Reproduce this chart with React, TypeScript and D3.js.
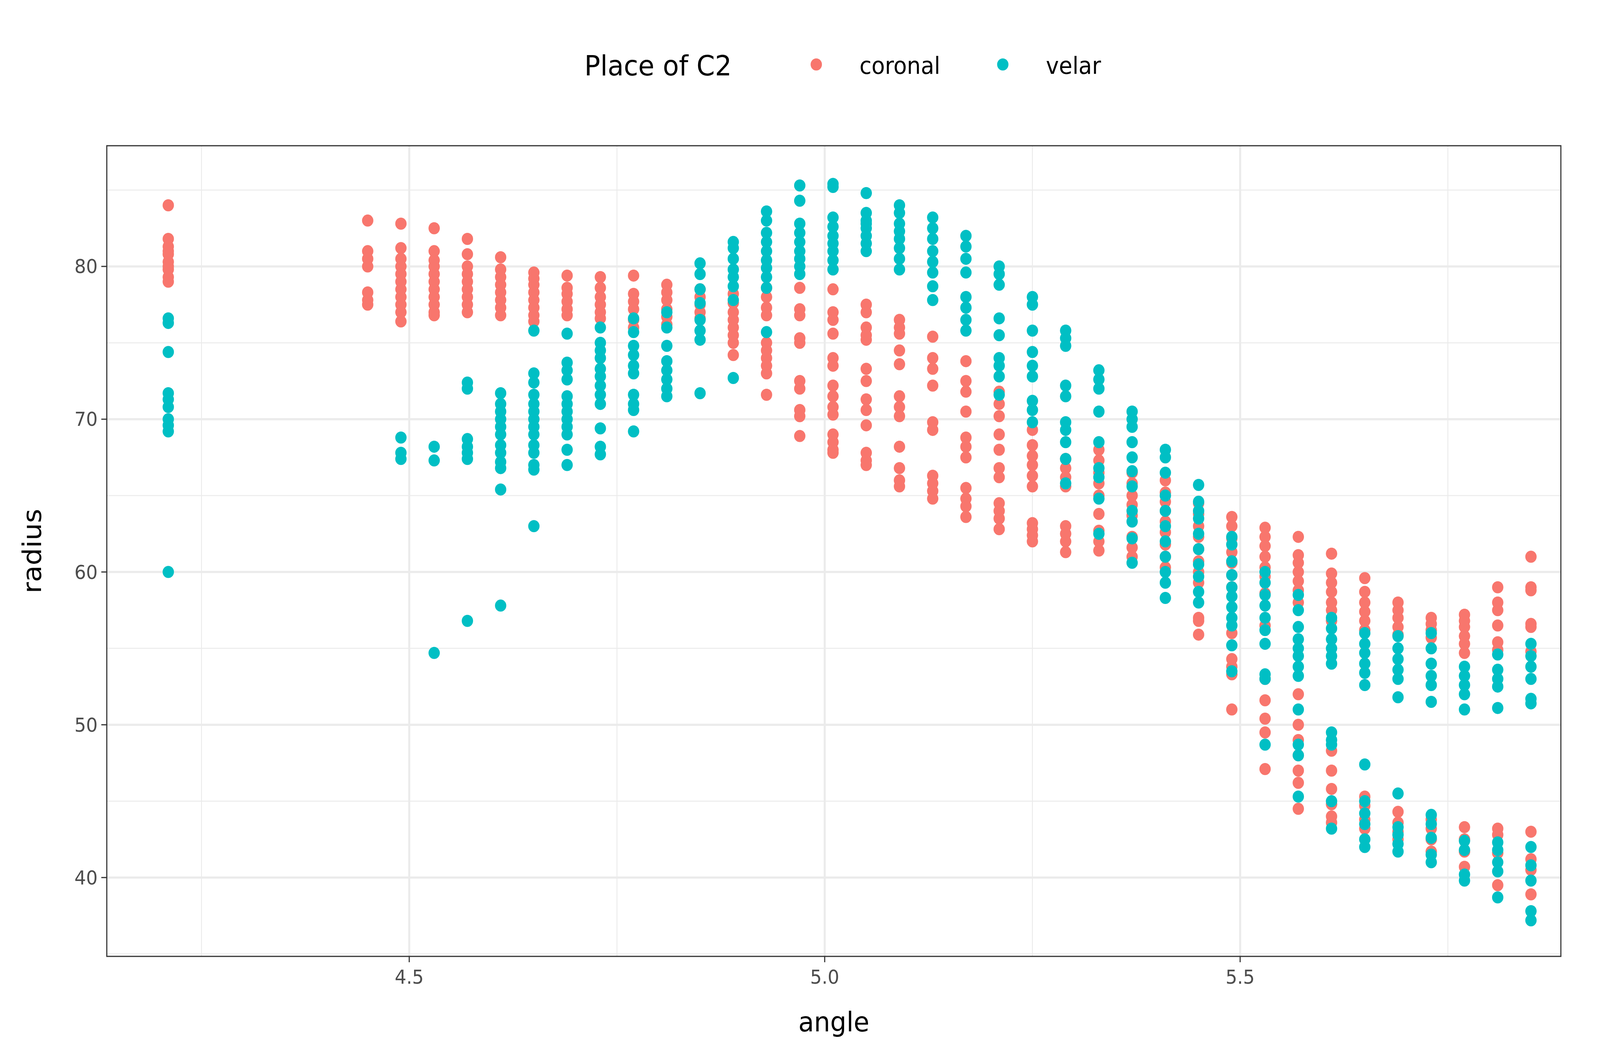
import React, { useEffect, useRef } from 'react';
import * as d3 from 'd3';

// Discrete angle positions (x values)
const angles = [4.21, 4.45, 4.49, 4.53, 4.57, 4.61, 4.65, 4.69, 4.73, 4.77, 4.81, 4.85, 4.89, 4.93, 4.97, 5.01, 5.05, 5.09, 5.13, 5.17, 5.21, 5.25, 5.29, 5.33, 5.37, 5.41, 5.45, 5.49, 5.53, 5.57, 5.61, 5.65, 5.69, 5.73, 5.77, 5.81, 5.85];

// radius values per angle, coronal
const coronal: number[][] = [
  [84, 81.8, 81.3, 80.8, 80.3, 79.8, 79.3, 79, 80, 81],
  [83, 81, 80.5, 80, 78.3, 77.8, 77.5],
  [82.8, 81.2, 80.5, 80, 79.5, 79, 78.5, 78, 77.5, 77, 76.4],
  [82.5, 81, 80.4, 80, 79.5, 79, 78.5, 78, 77.5, 77, 76.8],
  [81.8, 80.8, 80, 79.5, 79, 78.5, 78, 77.5, 77],
  [80.6, 79.8, 79.3, 78.8, 78.3, 77.8, 77.3, 76.8],
  [79.6, 79.2, 78.8, 78.3, 77.8, 77.3, 76.8, 76.4],
  [79.4, 78.6, 78.2, 77.7, 77.2, 76.8],
  [79.3, 78.6, 78, 77.5, 77, 76.6],
  [79.4, 78.2, 77.7, 77.2, 76.5, 76],
  [78.8, 78.3, 77.8, 77.2, 76.7, 76.2],
  [78.5, 78, 77.5, 77, 76.6],
  [78.2, 77.6, 77, 76.5, 76, 75.5, 75, 74.2],
  [78.6, 78, 77.3, 76.8, 75, 74.5, 74, 73.5, 73, 71.6],
  [78.6, 77.2, 76.8, 75.3, 75, 72.5, 72, 70.6, 70.2, 68.9],
  [78.5, 77, 76.5, 75.6, 74, 73.5, 72.2, 71.5, 70.8, 70.3, 69, 68.5, 68, 67.8],
  [77.5, 77, 76, 75.5, 75.2, 73.3, 72.5, 71.3, 70.6, 69.6, 67.8, 67.3, 67],
  [76.5, 76, 75.6, 74.5, 73.6, 71.5, 70.8, 70.2, 68.2, 66.8, 66, 65.6],
  [75.4, 74, 73.3, 72.2, 69.8, 69.3, 66.3, 65.8, 65.3, 64.8],
  [73.8, 72.5, 71.8, 70.5, 68.8, 68.2, 67.5, 65.5, 64.8, 64.3, 63.6],
  [71.8, 71, 70.2, 69, 68, 66.8, 66.2, 64.5, 64, 63.5, 62.8],
  [69.3, 68.3, 67.6, 67, 66.3, 65.6, 63.2, 62.8, 62.4, 62],
  [67.4, 66.8, 66.2, 65.6, 63, 62.5, 62, 61.3],
  [68, 67.3, 66.5, 65.8, 65, 63.8, 62.7, 62, 61.4],
  [66.5, 65.8, 65, 64.4, 63.7, 62.3, 61.6, 61],
  [66, 65.2, 64.6, 64, 63.3, 62.6, 61.8, 61, 60.3],
  [64.5, 63.8, 63, 62.3, 61.5, 60.7, 60, 59.3, 57, 56.8, 55.9],
  [63.6, 63, 62.2, 61.3, 60.6, 59.8, 59, 56, 54.3, 53.8, 53.3, 51],
  [62.9, 62.3, 61.7, 61, 60.3, 59.7, 58.6, 56.5, 53, 51.6, 50.4, 49.5, 47.1],
  [62.3, 61.1, 60.6, 60, 59.4, 58.8, 58, 52, 50, 49, 48, 47, 46.2, 44.5],
  [61.2, 59.9, 59.3, 58.7, 58, 57.5, 56.8, 48.3, 47, 45.8, 44.8, 44, 43.6],
  [59.6, 58.7, 58, 57.4, 56.8, 56.2, 45.3, 44.7, 43.8, 43.2],
  [58, 57.5, 57, 56.4, 55.9, 44.3, 43.6, 43, 42.5],
  [57, 56.6, 56.2, 55.7, 43.8, 43.2, 42.5, 41.7],
  [57.2, 56.8, 56.4, 55.8, 55.3, 54.7, 43.3, 42.5, 41.7, 40.7],
  [59, 58, 57.5, 56.5, 55.4, 54.9, 43.2, 42.8, 41.6, 39.5],
  [61, 59, 58.8, 56.6, 56.4, 54.8, 43, 41.2, 40.5, 38.9],
];

// radius values per angle, velar
const velar: number[][] = [
  [76.6, 76.3, 74.4, 71.7, 71.3, 70.8, 70, 69.6, 69.2, 60],
  [],
  [68.8, 67.8, 67.4],
  [68.2, 67.3, 54.7],
  [72.4, 72, 68.7, 68.2, 67.8, 67.4, 56.8],
  [71.7, 71, 70.5, 70, 69.5, 69, 68.3, 67.8, 67.2, 66.8, 65.4, 57.8],
  [75.8, 73, 72.4, 71.6, 71, 70.5, 70, 69.5, 69, 68.3, 67.8, 67, 66.7, 63],
  [75.6, 73.7, 73.2, 72.6, 71.5, 71, 70.5, 70, 69.5, 69, 68, 67],
  [76, 75, 74.5, 74, 73.3, 72.8, 72.2, 71.6, 71, 69.4, 68.2, 67.7],
  [76.6, 75.7, 74.8, 74.2, 73.5, 73, 71.6, 71, 70.6, 69.2],
  [77, 76, 74.8, 73.8, 73.2, 72.6, 72, 71.5],
  [80.2, 79.5, 78.5, 77.6, 76.5, 75.8, 75.2, 71.7],
  [81.6, 81.2, 80.5, 79.8, 79.3, 78.7, 77.8, 72.7],
  [83.6, 83, 82.2, 81.6, 81, 80.4, 79.9, 79.3, 78.6, 75.7],
  [85.3, 84.3, 82.8, 82.2, 81.6, 81, 80.5, 80, 79.5],
  [85.4, 85.2, 83.2, 82.6, 82, 81.5, 81, 80.4, 79.8],
  [84.8, 83.5, 83, 82.5, 82, 81.5, 81, 82.8],
  [84, 83.5, 82.8, 82.3, 81.8, 81.2, 80.5, 79.8],
  [83.2, 82.5, 81.8, 81, 80.3, 79.6, 78.7, 77.8],
  [82, 81.3, 80.5, 79.6, 78, 77.3, 76.5, 75.8],
  [80, 79.5, 78.8, 76.6, 75.5, 74, 73.5, 72.8, 71.6],
  [78, 77.5, 75.8, 74.4, 73.5, 72.8, 71.2, 70.6, 69.8],
  [75.8, 75.3, 74.8, 72.2, 71.5, 69.8, 69.3, 68.5, 67.4, 65.8],
  [73.2, 72.6, 72, 70.5, 68.5, 66.8, 66.2, 64.8, 62.5],
  [70.5, 70, 69.5, 68.5, 67.5, 66.6, 65.6, 64, 63.3, 62.2, 60.6],
  [68, 67.5, 66.5, 65, 64, 63, 62, 61, 60, 59.3, 58.3],
  [65.7, 64.6, 64, 63.5, 62.5, 61.5, 60.5, 59.7, 58.7, 58],
  [62.3, 61.8, 60.7, 59.8, 59, 58.4, 57.7, 57, 56.5, 55.2, 53.5],
  [60, 59.3, 58.5, 57.8, 57, 56.2, 55.3, 53.3, 53, 48.7],
  [58.5, 57.5, 56.4, 55.6, 55, 54.5, 53.8, 53.2, 51, 48.7, 48, 45.3],
  [57, 56.3, 55.6, 55, 54.5, 54, 49.5, 49, 48.7, 45, 43.2],
  [56, 55.3, 54.7, 54, 53.4, 52.6, 47.4, 45, 44.2, 43.5, 42.5, 42],
  [55.8, 55, 54.3, 53.6, 53, 51.8, 45.5, 43.3, 42.8, 42.2, 41.7],
  [56, 55, 54, 53.2, 52.6, 51.5, 44.1, 43.5, 42.6, 41.5, 41],
  [53.8, 53.2, 52.6, 52, 51, 42.4, 41.8, 40.2, 39.8],
  [54.6, 53.6, 53, 52.5, 51.1, 42.3, 41.8, 41, 40.4, 38.7],
  [55.3, 54.5, 53.8, 53, 51.7, 51.4, 42, 40.8, 39.8, 37.8, 37.2],
];

const xTicks = [4.5, 5.0, 5.5];
const xMinor = [4.25, 4.75, 5.25, 5.75];
const yTicks = [40, 50, 60, 70, 80];
const yMinor = [35, 45, 55, 65, 75, 85];

const groups = ['coronal', 'velar'];
const colors = ['#F8766D', '#00BFC4'];

const App = () => {
  const svgRef = useRef<SVGSVGElement | null>(null);

  useEffect(() => {
    if (!svgRef.current) return;
    const width = 4375;
    const height = 2703;
    const svg = d3.select(svgRef.current);
    svg.selectAll('*').remove();
    svg.attr('viewBox', `0 0 ${width} ${height}`).attr('preserveAspectRatio', 'none');
    svg.append('rect').attr('width', width).attr('height', height).attr('fill', '#fff');

    const left = 292, top = 373, right = 4268, bottom = 2448;
    const x = d3.scaleLinear().domain([4.136, 5.886]).range([left, right]);
    const y = d3.scaleLinear().domain([34.84, 87.9]).range([bottom, top]);
    const font = 'DejaVu Sans, sans-serif';

    // grid
    xMinor.forEach(t => svg.append('line').attr('x1', x(t)).attr('x2', x(t)).attr('y1', top).attr('y2', bottom)
      .attr('stroke', '#ebebeb').attr('stroke-width', 2.5));
    yMinor.forEach(t => svg.append('line').attr('y1', y(t)).attr('y2', y(t)).attr('x1', left).attr('x2', right)
      .attr('stroke', '#ebebeb').attr('stroke-width', 2.5));
    xTicks.forEach(t => svg.append('line').attr('x1', x(t)).attr('x2', x(t)).attr('y1', top).attr('y2', bottom)
      .attr('stroke', '#ebebeb').attr('stroke-width', 5.5));
    yTicks.forEach(t => svg.append('line').attr('y1', y(t)).attr('y2', y(t)).attr('x1', left).attr('x2', right)
      .attr('stroke', '#ebebeb').attr('stroke-width', 5.5));

    // points
    [coronal, velar].forEach((series, gi) => {
      series.forEach((vals, i) => {
        vals.forEach(v => {
          svg.append('circle').attr('cx', x(angles[i])).attr('cy', y(v)).attr('r', 15.5).attr('fill', colors[gi]);
        });
      });
    });

    // panel border
    svg.append('rect').attr('x', left).attr('y', top).attr('width', right - left).attr('height', bottom - top)
      .attr('fill', 'none').attr('stroke', '#333').attr('stroke-width', 3);

    // ticks + labels
    xTicks.forEach(t => {
      svg.append('line').attr('x1', x(t)).attr('x2', x(t)).attr('y1', bottom).attr('y2', bottom + 15)
        .attr('stroke', '#333').attr('stroke-width', 3);
      svg.append('text').attr('x', x(t)).attr('y', bottom + 70).attr('text-anchor', 'middle')
        .attr('fill', '#4d4d4d').style('font-size', '50px').style('font-family', font).text(t.toFixed(1));
    });
    yTicks.forEach(t => {
      svg.append('line').attr('x1', left - 15).attr('x2', left).attr('y1', y(t)).attr('y2', y(t))
        .attr('stroke', '#333').attr('stroke-width', 3);
      svg.append('text').attr('x', left - 25).attr('y', y(t)).attr('dy', '0.35em').attr('text-anchor', 'end')
        .attr('fill', '#4d4d4d').style('font-size', '50px').style('font-family', font).text(t);
    });

    // axis titles
    svg.append('text').attr('x', (left + right) / 2).attr('y', 2640).attr('text-anchor', 'middle')
      .style('font-size', '70px').style('font-family', font).text('angle');
    svg.append('text').attr('transform', `translate(112,${(top + bottom) / 2}) rotate(-90)`).attr('text-anchor', 'middle')
      .style('font-size', '70px').style('font-family', font).text('radius');

    // legend
    svg.append('text').attr('x', 1598).attr('y', 168).attr('dy', '0.35em')
      .style('font-size', '72px').style('font-family', font).text('Place of C2');
    const legX = [2232, 2742];
    groups.forEach((g, i) => {
      svg.append('circle').attr('cx', legX[i]).attr('cy', 165).attr('r', 15.5).attr('fill', colors[i]);
      svg.append('text').attr('x', legX[i] + 118).attr('y', 168).attr('dy', '0.35em')
        .style('font-size', '60px').style('font-family', font).text(g);
    });
  }, []);

  return <svg ref={svgRef} style={{ position: 'absolute', left: 0, top: 0, width: '100vw', height: '100vh', display: 'block' }}></svg>;
};

export default App;
